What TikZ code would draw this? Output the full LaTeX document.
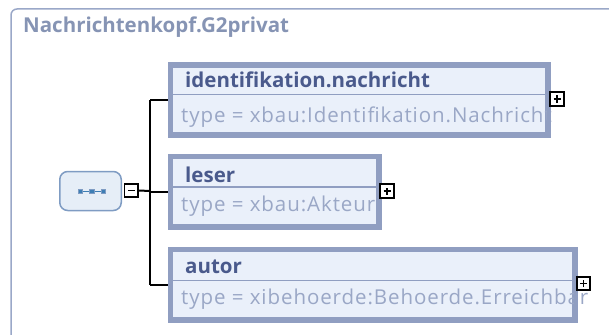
\documentclass[tikz,border=0pt]{standalone}
\usepackage{fontspec}
\setmainfont{Open Sans}
\newfontfamily\typefont[LetterSpace=4.5]{Open Sans}
\definecolor{framec}{HTML}{9AA8C8}
\definecolor{titlec}{HTML}{8694B4}
\definecolor{boxfill}{HTML}{EAF0FA}
\definecolor{boxline}{HTML}{909EC1}
\definecolor{namec}{HTML}{4A5A8C}
\definecolor{typec}{HTML}{9AA7C6}
\definecolor{seqfill}{HTML}{E6EEF7}
\definecolor{seqline}{HTML}{7F9CC3}
\definecolor{seqdot}{HTML}{3E7FB5}
\tikzset{
  elem/.style={draw=boxline, line width=3.5pt, fill=boxfill, inner sep=0pt},
  elemname/.style={anchor=base west, inner sep=0pt, text=namec, font=\fontsize{20.5}{20.5}\selectfont\bfseries},
  elemtype/.style={anchor=base west, inner sep=0pt, text=typec, font=\typefont\fontsize{20.5}{20.5}\selectfont},
  divider/.style={draw=boxline, line width=1.5pt},
  toggle/.style={draw=black, fill=white, line width=1.8pt, minimum size=13.5pt, inner sep=0pt},
  conn/.style={draw=black, line width=2pt},
  seqdotbox/.style={fill=seqdot, draw=seqline, line width=0.6pt, minimum size=4.5pt, inner sep=0pt},
}
\begin{document}
\begin{tikzpicture}[x=1pt, y=-1pt]
\useasboundingbox (0,0) rectangle (609,334);
\clip (0,0) rectangle (609,334);
% outer group frame
\draw[framec, line width=1.5pt, rounded corners=6pt] (11,9) rectangle (640,360);
\node[anchor=base west, inner sep=0pt, text=titlec, font=\fontsize{20.5}{20.5}\selectfont\bfseries] (title) at (23,33) {Nachrichtenkopf.G2privat};

% sequence compositor
\node[draw=seqline, fill=seqfill, line width=1.5pt, rounded corners=8pt, minimum width=61.5pt, minimum height=39pt, inner sep=0pt] (seq) at (90.5,191) {};
\node[seqdotbox] (d1) at (80.5,191.5) {};
\node[seqdotbox] (d2) at (92,191.5) {};
\node[seqdotbox] (d3) at (103.5,191.5) {};
\draw[seqdot, line width=0.8pt] (d1) -- (d2) -- (d3);
\node[toggle] (minus) at (131.3,190.5) {};
\draw[line width=1.8pt] ([xshift=-3.5pt]minus.center) -- ([xshift=3.5pt]minus.center);

% element boxes
\node[elem, minimum width=376pt, minimum height=68pt] (ident) at (359,100) {};
\node[elem, minimum width=207pt, minimum height=69pt] (leser) at (274.5,191.5) {};
\node[elem, minimum width=403pt, minimum height=69pt] (autor) at (372.5,284.5) {};

% connectors
\coordinate (fork) at (150,191);
\draw[conn] (minus.east) -- (fork);
\draw[conn] (fork |- ident.west) -- (fork |- autor.west);
\draw[conn] (fork |- ident.west) -- (ident.west);
\draw[conn] (fork |- leser.west) -- (leser.west);
\draw[conn] (fork |- autor.west) -- (autor.west);

% element texts
\node[elemname] (identn) at (185,88) {identifikation.nachricht};
\node[elemtype] (identt) at (181,122) {type = xbau:Identifikation.Nachricht};
\node[elemname] (lesern) at (185,182) {leser};
\node[elemtype] (lesert) at (181,211.5) {type = xbau:Akteur};
\node[elemname] (autorn) at (185,273) {autor};
\node[elemtype] (autort) at (181,304) {type = xibehoerde:Behoerde.Erreichbar};

% borders and dividers drawn over the texts
\foreach \b in {ident,leser,autor} {
  \draw[draw=boxline, line width=3.5pt] (\b.north west) rectangle (\b.south east);
}
\draw[divider] (172,94.5) -- (545,94.5);
\draw[divider] (172,187) -- (376,187);
\draw[divider] (172,280.5) -- (572,280.5);

% expand toggles
\node[toggle] (p1) at (557,99) {};
\node[toggle] (p2) at (387,191) {};
\node[toggle] (p3) at (583.5,283.5) {};
\foreach \p in {p1,p2,p3} {
  \draw[line width=1.8pt] ([xshift=-3.5pt]\p.center) -- ([xshift=3.5pt]\p.center);
  \draw[line width=1.8pt] ([yshift=-3.5pt]\p.center) -- ([yshift=3.5pt]\p.center);
}
\end{tikzpicture}
\end{document}
